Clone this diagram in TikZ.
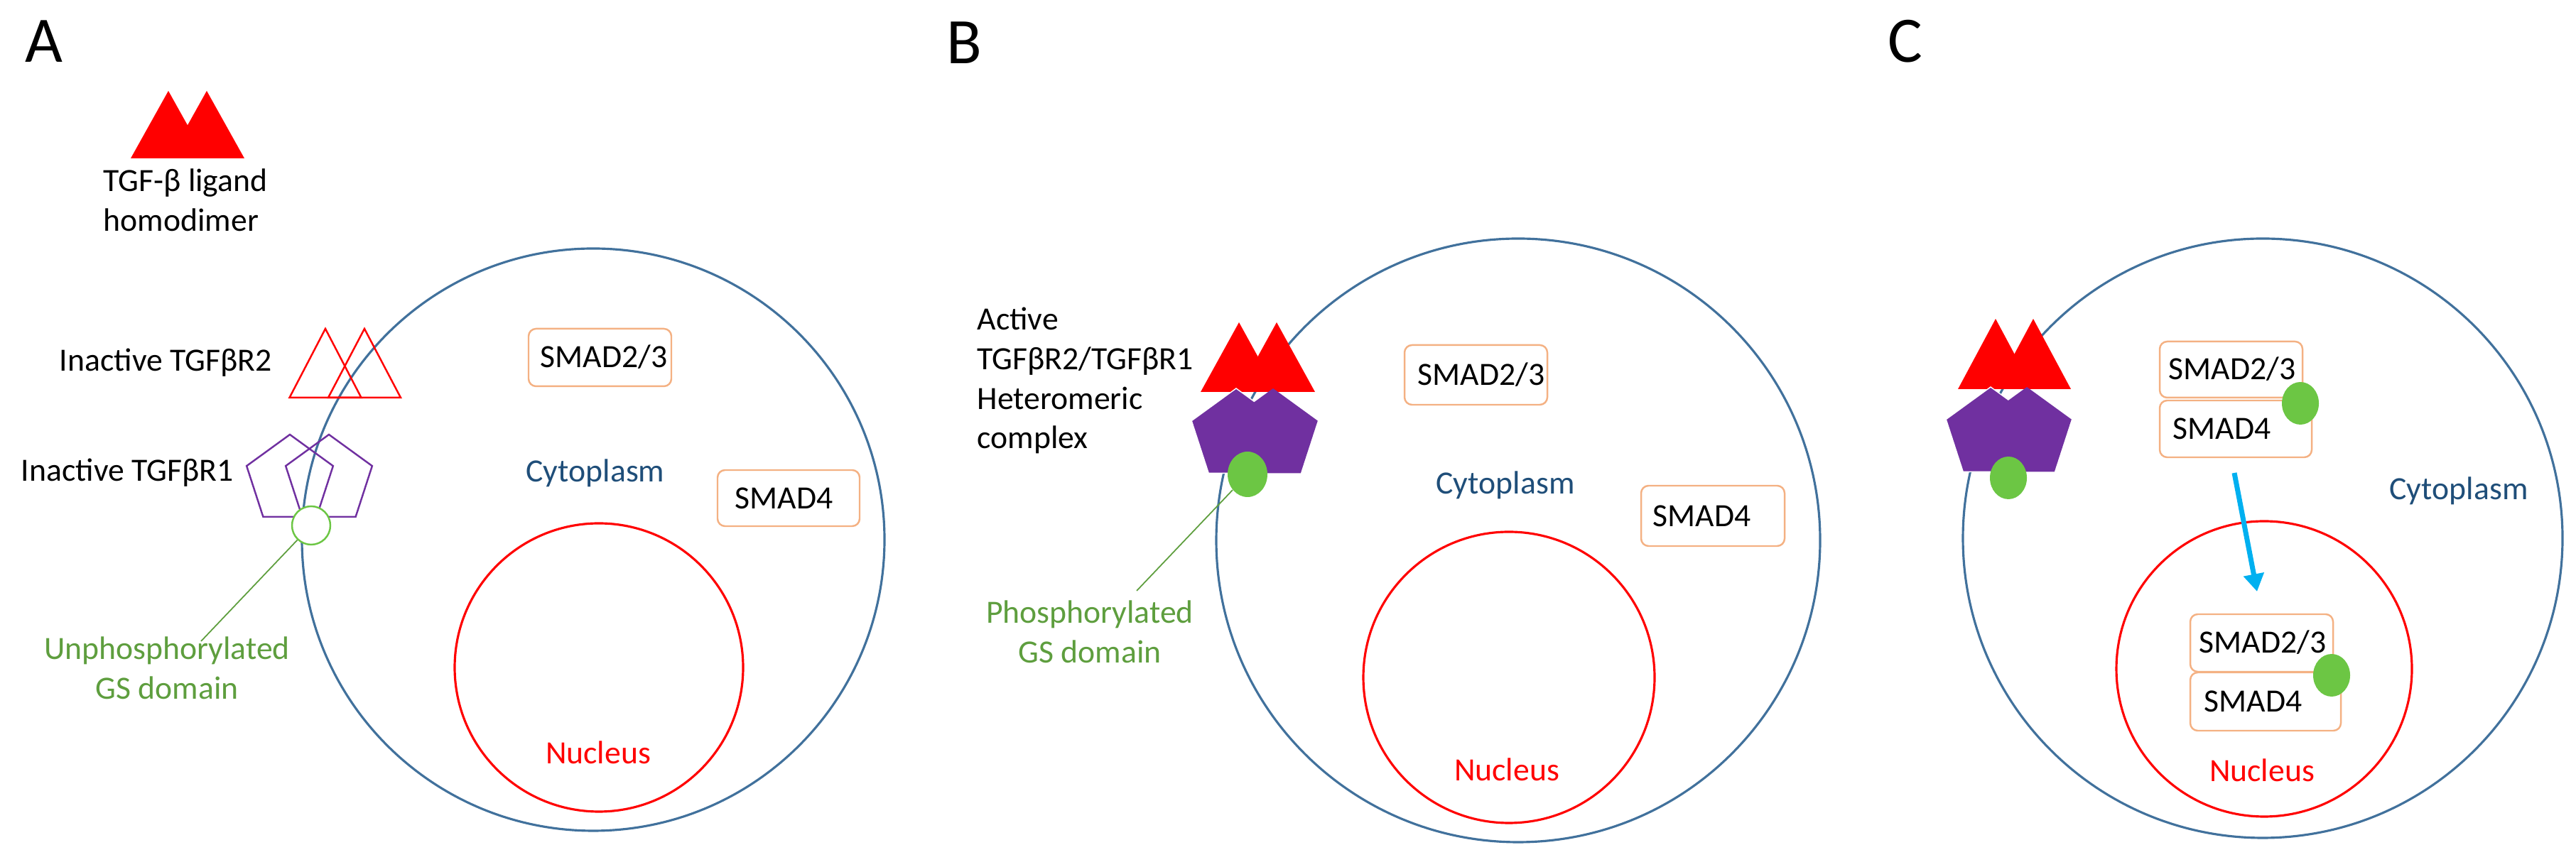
\documentclass[tikz,border=0pt]{standalone}
\usepackage{fontspec}
\setmainfont{Carlito}
\usetikzlibrary{arrows.meta}
\definecolor{cellblue}{HTML}{41719C}
\definecolor{cytotext}{HTML}{1F4E79}
\definecolor{nucred}{HTML}{FF0000}
\definecolor{recpurple}{HTML}{7030A0}
\definecolor{phgreen}{HTML}{6CC644}
\definecolor{gstext}{HTML}{5E9E3E}
\definecolor{boxorange}{HTML}{F4B183}
\definecolor{arrowcyan}{HTML}{00B0F0}
\tikzset{
  lbl/.style={font=\fontsize{13}{15.9}\selectfont, inner sep=0pt, align=left},
  panel/.style={font=\fontsize{26}{30}\selectfont, inner sep=0pt},
  cell/.style={circle, draw=cellblue, line width=0.9pt, inner sep=0pt},
  nuc/.style={circle, draw=nucred, line width=0.9pt, inner sep=0pt},
  smad/.style={draw=boxorange, line width=0.7pt, rounded corners=3pt, fill=white},
  smadtxt/.style={font=\fontsize{13}{15}\selectfont, inner sep=0pt, anchor=west},
  cyto/.style={font=\fontsize{13}{15}\selectfont, text=cytotext, inner sep=0pt},
  nuctxt/.style={font=\fontsize{13}{15}\selectfont, text=nucred, inner sep=0pt},
  gs/.style={font=\fontsize{13}{15.9}\selectfont, text=gstext, inner sep=0pt, align=center},
  phos/.style={ellipse, fill=phgreen, inner sep=0pt},
  lead/.style={draw=gstext, line width=0.5pt},
}
\newcommand{\pentshape}[4]{% x y R style
  \draw[#4, shift={(#1,#2)}] (90:#3)--(162:#3)--(234:#3)--(306:#3)--(18:#3)--cycle;}
\newcommand{\trishape}[5]{% apex x, apex y, half width, height, style
  \draw[#5] (#1,#2) -- ++(-#3,-#4) -- ++(2*#3,0) -- cycle;}
\usetikzlibrary{shapes.geometric}
\begin{document}
\begin{tikzpicture}
\useasboundingbox (0,0) rectangle (36.26,11.90);
% ---------- Panel A ----------
\node[panel] (la) at (0.62,11.32) {A};
\trishape{2.37}{10.62}{0.53}{0.95}{fill=nucred, draw=none}
\trishape{2.91}{10.62}{0.53}{0.95}{fill=nucred, draw=none}
\node[lbl, anchor=north west] (tgfb) at (1.45,9.53) {TGF-β ligand\\homodimer};
\node[cell, minimum size=8.2cm] (cellA) at (8.35,4.30) {};
\node[nuc, minimum size=4.06cm] (nucA) at (8.43,2.50) {};
\node[nuctxt] (nucAt) at (8.42,1.30) {Nucleus};
\node[cyto] (cytA) at (8.38,5.24) {Cytoplasm};
\draw[smad] (7.44,6.46) rectangle (9.45,7.27);
\node[smadtxt] (a23) at (7.60,6.87) {SMAD2/3};
\draw[smad] (10.10,4.49) rectangle (12.10,5.28);
\node[smadtxt] (a4) at (10.34,4.885) {SMAD4};
\trishape{4.58}{7.27}{0.505}{0.97}{draw=nucred, line width=0.7pt}
\trishape{5.13}{7.27}{0.51}{0.97}{draw=nucred, line width=0.7pt}
\node[lbl, anchor=east] (r2a) at (3.83,6.79) {Inactive TGFβR2};
\pentshape{4.08}{5.14}{0.64}{draw=recpurple, line width=0.7pt}
\pentshape{4.63}{5.14}{0.64}{draw=recpurple, line width=0.7pt}
\node[lbl, anchor=east] (r1a) at (3.29,5.24) {Inactive TGFβR1};
\node[circle, draw=phgreen, line width=0.7pt, minimum size=0.54cm, inner sep=0pt, fill=white] (gsA) at (4.38,4.50) {};
\coordinate (gsAend) at (2.83,2.87);
\draw[lead] (gsA) -- (gsAend);
\node[gs, anchor=north] (gsAt) at (2.35,2.94) {Unphosphorylated\\GS domain};
% ---------- Panel B ----------
\node[panel] (lb) at (13.57,11.30) {B};
\node[cell, minimum size=8.5cm] (cellB) at (21.37,4.29) {};
\node[nuc, minimum size=4.1cm] (nucB) at (21.24,2.36) {};
\node[nuctxt] (nucBt) at (21.21,1.06) {Nucleus};
\node[cyto] (cytB) at (21.19,5.07) {Cytoplasm};
\draw[smad] (19.77,6.20) rectangle (21.78,7.04);
\node[smadtxt] (b23) at (19.95,6.62) {SMAD2/3};
\draw[smad] (23.10,4.21) rectangle (25.12,5.06);
\node[smadtxt] (b4) at (23.26,4.635) {SMAD4};
\trishape{17.44}{7.36}{0.54}{0.98}{fill=nucred, draw=none}
\trishape{17.97}{7.36}{0.54}{0.98}{fill=nucred, draw=none}
\pentshape{17.40}{5.77}{0.66}{fill=recpurple, draw=white, line width=0.4pt}
\pentshape{17.92}{5.77}{0.66}{fill=recpurple, draw=none}
\node[phos, minimum width=0.56cm, minimum height=0.64cm] (gsB) at (17.56,5.22) {};
\coordinate (gsBend) at (16.00,3.58);
\draw[lead] (gsB) -- (gsBend);
\node[lbl, anchor=north west] (actB) at (13.75,7.58) {Active\\TGFβR2/TGFβR1\\Heteromeric\\complex};
\node[gs, anchor=north] (gsBt) at (15.34,3.45) {Phosphorylated\\GS domain};
% ---------- Panel C ----------
\node[panel] (lc) at (26.82,11.32) {C};
\node[cell, minimum size=8.44cm] (cellC) at (31.85,4.32) {};
\node[nuc, minimum size=4.16cm] (nucC) at (31.87,2.48) {};
\node[nuctxt] (nucCt) at (31.84,1.05) {Nucleus};
\node[cyto] (cytC) at (34.61,4.99) {Cytoplasm};
\trishape{28.09}{7.41}{0.53}{0.99}{fill=nucred, draw=none}
\trishape{28.62}{7.41}{0.53}{0.99}{fill=nucred, draw=none}
\pentshape{28.02}{5.79}{0.66}{fill=recpurple, draw=white, line width=0.4pt}
\pentshape{28.53}{5.79}{0.66}{fill=recpurple, draw=none}
\node[phos, minimum width=0.52cm, minimum height=0.60cm] (gsC) at (28.27,5.17) {};
% cytoplasmic complex
\draw[smad] (30.40,6.30) rectangle (32.41,7.09);
\node[smadtxt] (c23) at (30.52,6.70) {SMAD2/3};
\draw[smad] (30.40,5.46) rectangle (32.54,6.26);
\node[smadtxt] (c4) at (30.58,5.86) {SMAD4};
\node[phos, minimum width=0.52cm, minimum height=0.60cm] (pc) at (32.38,6.22) {};
% nuclear complex
\draw[smad] (30.83,2.44) rectangle (32.84,3.25);
\node[smadtxt] (n23) at (30.95,2.85) {SMAD2/3};
\draw[smad] (30.83,1.61) rectangle (32.95,2.43);
\node[smadtxt] (n4) at (31.02,2.02) {SMAD4};
\node[phos, minimum width=0.52cm, minimum height=0.60cm] (pn) at (32.82,2.39) {};
\coordinate (arrS) at (31.45,5.24);
\coordinate (arrE) at (31.77,3.57);
\draw[arrowcyan, line width=2pt, -{Triangle[length=7pt,width=8pt]}] (arrS) -- (arrE);
\end{tikzpicture}
\end{document}
